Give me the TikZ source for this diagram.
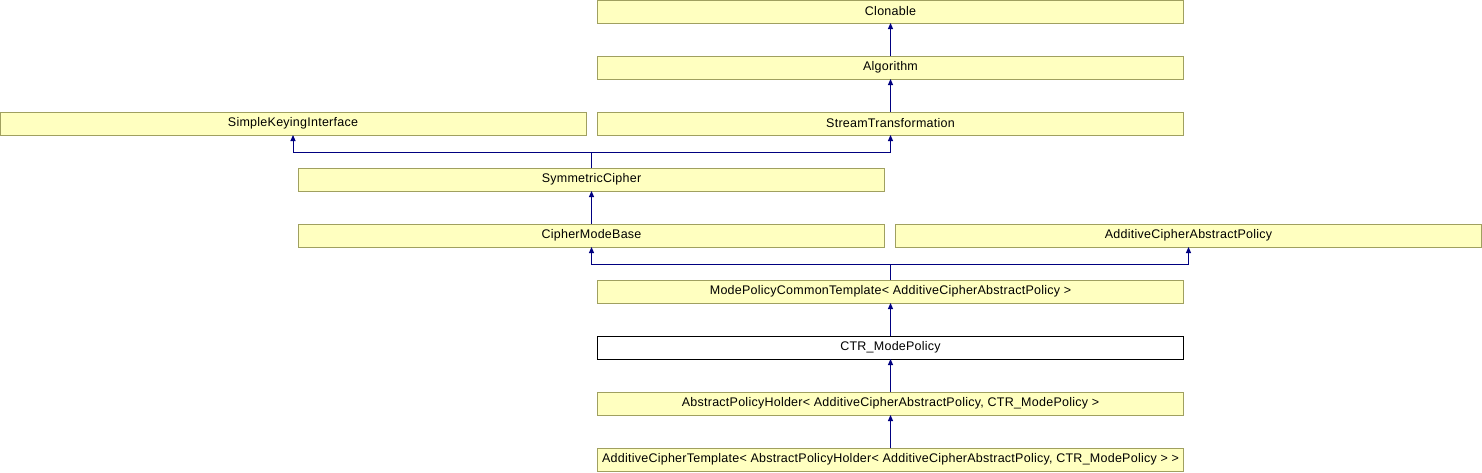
\documentclass[tikz,border=0pt]{standalone}
\usepackage{fontspec}
\setmainfont[LetterSpace=2.0]{Liberation Sans}
\usetikzlibrary{arrows.meta}
\definecolor{boxfill}{HTML}{FFFFC0}
\definecolor{boxline}{HTML}{A0A060}
\definecolor{edgecol}{HTML}{000080}
\tikzset{
  cls/.style={draw=boxline, fill=boxfill, line width=1pt, minimum width=586pt, minimum height=23pt, inner sep=0pt, outer sep=0pt, font=\fontsize{12.5}{14}\selectfont},
  cur/.style={cls, draw=black, fill=white},
  inh/.style={draw=edgecol, line width=1pt, -{Triangle[width=5pt,length=6pt]}},
  plain/.style={draw=edgecol, line width=1pt}
}
\begin{document}
\begin{tikzpicture}[x=1pt,y=-1pt]
\useasboundingbox (0,0) rectangle (1482,472);
\node[cls] (clon) at (890.5,11.5) {Clonable};
\node[cls] (alg)  at (890.5,67.5) {Algorithm};
\node[cls] (ski)  at (293,123.5) {SimpleKeyingInterface};
\node[cls] (st)   at (890.5,123.5) {StreamTransformation};
\node[cls] (sym)  at (591.5,179.5) {SymmetricCipher};
\node[cls] (cmb)  at (591.5,235.5) {CipherModeBase};
\node[cls] (acap) at (1188.5,235.5) {AdditiveCipherAbstractPolicy};
\node[cls] (mpct) at (890.5,291.5) {ModePolicyCommonTemplate< AdditiveCipherAbstractPolicy >};
\node[cur] (ctr)  at (890.5,347.5) {CTR\_ModePolicy};
\node[cls] (aph)  at (890.5,403.5) {AbstractPolicyHolder< AdditiveCipherAbstractPolicy, CTR\_ModePolicy >};
\node[cls] (act)  at (890.5,459.5) {AdditiveCipherTemplate< AbstractPolicyHolder< AdditiveCipherAbstractPolicy, CTR\_ModePolicy > >};
\coordinate (j1) at (591.5,152);
\coordinate (j2) at (890.5,264);
\draw[inh] (alg.north) -- (clon.south);
\draw[inh] (st.north) -- (alg.south);
\draw[plain] (sym.north) -- (j1);
\draw[inh] (j1) -| (ski.south);
\draw[inh] (j1) -| (st.south);
\draw[inh] (cmb.north) -- (sym.south);
\draw[plain] (mpct.north) -- (j2);
\draw[inh] (j2) -| (cmb.south);
\draw[inh] (j2) -| (acap.south);
\draw[inh] (ctr.north) -- (mpct.south);
\draw[inh] (aph.north) -- (ctr.south);
\draw[inh] (act.north) -- (aph.south);
\end{tikzpicture}
\end{document}
